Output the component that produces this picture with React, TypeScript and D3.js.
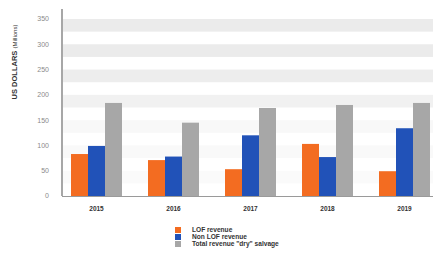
import React from "react";
import * as d3 from "d3";

const years = ["2015", "2016", "2017", "2018", "2019"];
const seriesNames = ["LOF revenue", "Non LOF revenue", "Total revenue \"dry\" salvage"];
const lofRevenue = [83, 71, 53, 103, 49];
const nonLofRevenue = [99, 78, 120, 77, 134];
const totalDry = [184, 145, 174, 180, 184];
const yTicks = [0, 50, 100, 150, 200, 250, 300, 350];
const colors = ["#f36c21", "#2152b8", "#a7a7a7"];

export default function App() {
  const W = 433, H = 256;
  const y = d3.scaleLinear().domain([0, 350]).range([196, 19]);
  const x = d3.scaleBand<string>().domain(years).range([58, 443]).padding(0);
  const x1 = d3.scaleBand<number>().domain([0, 1, 2]).range([0, 51]).padding(0);
  const series = [lofRevenue, nonLofRevenue, totalDry];
  const bands = [
    [350, 325, "#ebebeb"], [300, 275, "#ebebeb"], [250, 225, "#ededed"], [200, 175, "#f1f1f1"],
    [150, 125, "#f8f8f8"], [100, 75, "#f9f9f9"], [50, 25, "#fafafa"],
  ] as [number, number, string][];
  return (
    <svg width={W} height={H} style={{ position: "absolute", left: 0, top: 0, background: "#fff" }}
      fontFamily="Liberation Sans, Arial, sans-serif">
      {bands.map(([a, b, c], i) => (
        <rect key={i} x={63} y={y(a)} width={W - 63} height={y(b) - y(a)} fill={c} />
      ))}
      {series.map((vals, si) =>
        years.map((yr, i) => {
          const bx = (x(yr) as number) + x.bandwidth() / 2 - 25.5 + (x1(si) as number);
          return (
            <rect key={si + "-" + yr} x={bx} y={y(vals[i])} width={x1.bandwidth()}
              height={y(0) - y(vals[i])} fill={colors[si]} />
          );
        })
      )}
      <line x1={62} x2={62} y1={9} y2={196} stroke="#8a8a8a" strokeWidth={1.5} />
      <line x1={62} x2={W} y1={196.5} y2={196.5} stroke="#9a9a9a" strokeWidth={1} />
      {yTicks.map((t) => (
        <text key={t} x={49} y={y(t)} dy="0.35em" textAnchor="end" fontSize={7} fill="#8a8a8a">{t}</text>
      ))}
      {years.map((yr) => (
        <text key={yr} x={(x(yr) as number) + x.bandwidth() / 2} y={209} dy="0.35em" textAnchor="middle"
          fontSize={6.5} fontWeight="bold" fill="#333">{yr}</text>
      ))}
      <text transform="translate(14,62) rotate(-90)" textAnchor="middle" dy="0.35em" fontSize={7.5}
        fontWeight="bold" fill="#333">
        US DOLLARS <tspan fontWeight="normal" fontSize={6}>(Millions)</tspan>
      </text>
      {seriesNames.map((s, i) => (
        <g key={s} transform={`translate(175,${230 + i * 7})`}>
          <rect x={0} y={-3} width={6} height={6} fill={colors[i]} />
          <text x={17} y={0} dy="0.35em" fontSize={6.6} fontWeight="bold" fill="#333">{s}</text>
        </g>
      ))}
    </svg>
  );
}
